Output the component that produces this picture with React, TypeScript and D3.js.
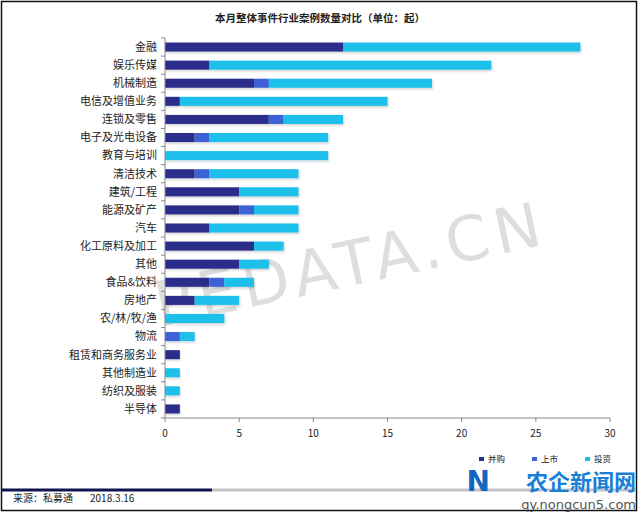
import React from "react";
import * as d3 from "d3";

const categories = [
  "金融", "娱乐传媒", "机械制造", "电信及增值业务", "连锁及零售", "电子及光电设备",
  "教育与培训", "清洁技术", "建筑/工程", "能源及矿产", "汽车", "化工原料及加工",
  "其他", "食品&饮料", "房地产", "农/林/牧/渔", "物流", "租赁和商务服务业",
  "其他制造业", "纺织及服装", "半导体",
];
const mergers = [12, 3, 6, 1, 7, 2, 0, 2, 5, 5, 3, 6, 5, 3, 2, 0, 0, 1, 0, 0, 1];
const ipos = [0, 0, 1, 0, 1, 1, 0, 1, 0, 1, 0, 0, 0, 1, 0, 0, 1, 0, 0, 0, 0];
const investments = [16, 19, 11, 14, 4, 8, 11, 6, 4, 3, 6, 2, 2, 2, 3, 4, 1, 0, 1, 1, 0];
const seriesNames = ["并购", "上市", "投资"];
const xTicks = [0, 5, 10, 15, 20, 25, 30];
const colors = ["#2C2E8A", "#3C62D6", "#1DC0EA"];
const title = "本月整体事件行业案例数量对比（单位：起）";
const sourceLabel = "来源：私募通";
const sourceDate = "2018.3.16";

const W = 641, H = 515;
const font = "'Noto Sans CJK SC', 'Noto Sans', sans-serif";

export default function App() {
  const x = d3.scaleLinear().domain([0, 30]).range([165, 610]);
  const y = d3.scaleBand<string>().domain(categories).range([38, 418]).paddingInner(0.5).paddingOuter(0.25);
  const rows = categories.map((c, i) => ({ c, "0": mergers[i], "1": ipos[i], "2": investments[i] }));
  const stack = d3.stack<any>().keys(["0", "1", "2"])(rows);
  const bandEdges = d3.range(categories.length + 1).map((i) => 38 + i * ((418 - 38) / categories.length));
  return (
    <svg width={W} height={H} style={{ position: "absolute", left: 0, top: 0, background: "#fff" }} fontFamily={font}>
      <defs>
        <filter id="sh" x="-5%" y="-50%" width="110%" height="200%">
          <feDropShadow dx="1" dy="1.5" stdDeviation="1" floodColor="#000" floodOpacity="0.18" />
        </filter>
      </defs>
      <rect x={1.5} y={1.5} width={635} height={509} fill="#fff" stroke="#111" strokeWidth={1.5} />
      {/* watermark */}
      <text x={355} y={285} fontSize={62} fill="#d4d4d4" opacity={0.75} textAnchor="middle" transform="rotate(-12 355 285)" fontFamily="'DejaVu Sans', sans-serif" letterSpacing={6}>
        PEDATA.CN
      </text>
      <text x={320} y={22} fontSize={10.5} fontWeight="bold" textAnchor="middle" fill="#222">{title}</text>
      {/* bars */}
      {stack.map((layer, si) => (
        <g key={si} fill={colors[si]}>
          {layer.map((d, i) =>
            d[1] - d[0] > 0 ? (
              <rect key={i} x={x(d[0])} y={y(categories[i])!} width={x(d[1]) - x(d[0])} height={y.bandwidth()} filter="url(#sh)" />
            ) : null
          )}
        </g>
      ))}
      {/* y axis */}
      <line x1={165} x2={165} y1={38} y2={418} stroke="#888" />
      {bandEdges.map((e, i) => (
        <line key={i} x1={161} x2={165} y1={e} y2={e} stroke="#888" />
      ))}
      {categories.map((c) => (
        <text key={c} x={157} y={y(c)! + y.bandwidth() / 2} dy="0.35em" fontSize={11} textAnchor="end" fill="#222">{c}</text>
      ))}
      {/* x axis */}
      <line x1={165} x2={610} y1={418} y2={418} stroke="#888" />
      {xTicks.map((t) => (
        <g key={t}>
          <line x1={x(t)} x2={x(t)} y1={418} y2={422} stroke="#888" />
          <text x={x(t)} y={437} fontSize={10} textAnchor="middle" fill="#222">{t}</text>
        </g>
      ))}
      {/* legend */}
      {seriesNames.map((s, i) => (
        <g key={s} transform={`translate(${479 + i * 53},459)`}>
          <rect x={0} y={-2} width={5} height={4} fill={colors[i]} />
          <text x={9} y={0} dy="0.35em" fontSize={8.5} fill="#222">{s}</text>
        </g>
      ))}
      {/* bottom rule */}
      <line x1={2} x2={212} y1={490} y2={490} stroke="#12144F" strokeWidth={3} />
      <line x1={212} x2={636} y1={490} y2={490} stroke="#c4c4c8" strokeWidth={3} />
      <text x={13} y={502} fontSize={10} fill="#222">{sourceLabel}</text>
      <text x={90} y={502} fontSize={10} fill="#222">{sourceDate}</text>
      {/* site watermark */}
      <text x={490} y={491} fontSize={28} fontWeight="bold" fill="#1565c0" textAnchor="end" fontFamily="'DejaVu Sans', sans-serif">N</text>
      <text x={636} y={490} fontSize={22} fontWeight="bold" textAnchor="end" fill="#1a7fd4">农企新闻网</text>
      <text x={636} y={509} fontSize={13} textAnchor="end" fill="#555" fontFamily="'DejaVu Sans', sans-serif">qy.nongcun5.com</text>
    </svg>
  );
}
